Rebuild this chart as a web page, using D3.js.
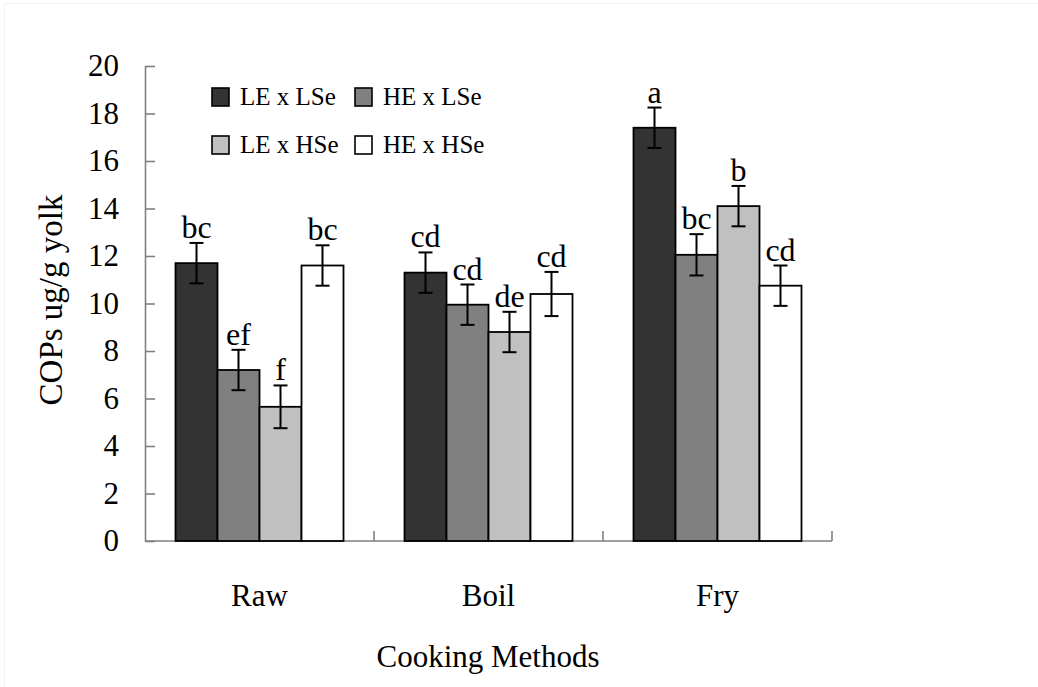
<!DOCTYPE html>
<html>
<head>
<meta charset="utf-8">
<script src="https://cdn.jsdelivr.net/npm/d3@7"></script>
<style>
  html, body { margin: 0; padding: 0; background: #fff; }
  svg { display: block; }
  text { font-family: "Liberation Serif", "Times New Roman", serif; fill: #000; }
</style>
</head>
<body>
<svg id="chart" width="1038" height="687"></svg>
<script>
// ---- data ----
const categories = ["Raw", "Boil", "Fry"];
const seriesNames = ["LE x LSe", "HE x LSe", "LE x HSe", "HE x HSe"];
const valuesLELSe = [11.7, 11.3, 17.4];
const valuesHELSe = [7.2, 9.95, 12.05];
const valuesLEHSe = [5.65, 8.8, 14.1];
const valuesHEHSe = [11.6, 10.4, 10.75];
const errorsLELSe = [0.85, 0.85, 0.85];
const errorsHELSe = [0.85, 0.85, 0.87];
const errorsLEHSe = [0.9, 0.85, 0.85];
const errorsHEHSe = [0.85, 0.93, 0.85];
const lettersLELSe = ["bc", "cd", "a"];
const lettersHELSe = ["ef", "cd", "bc"];
const lettersLEHSe = ["f", "de", "b"];
const lettersHEHSe = ["bc", "cd", "cd"];
const yTicks = [0, 2, 4, 6, 8, 10, 12, 14, 16, 18, 20];
const seriesColors = ["#333333", "#808080", "#c0c0c0", "#ffffff"];
const yTitle = "COPs ug/g yolk";
const xTitle = "Cooking Methods";

const seriesValues = [valuesLELSe, valuesHELSe, valuesLEHSe, valuesHEHSe];
const seriesErrors = [errorsLELSe, errorsHELSe, errorsLEHSe, errorsHEHSe];
const seriesLetters = [lettersLELSe, lettersHELSe, lettersLEHSe, lettersHEHSe];

const rows = [];
categories.forEach((c, ci) => {
  seriesNames.forEach((s, si) => {
    rows.push({cat: c, series: s, si: si,
               value: seriesValues[si][ci],
               err: seriesErrors[si][ci],
               letter: seriesLetters[si][ci]});
  });
});

// ---- layout ----
const svg = d3.select("#chart");
const plot = {left: 145, right: 832, top: 66, bottom: 541};

// faint outer frame like the scanned figure
svg.append("rect").attr("x", 4.5).attr("y", 3.5).attr("width", 1040).attr("height", 690)
  .attr("fill", "none").attr("stroke", "#f3f3f3").attr("stroke-width", 1);

const y = d3.scaleLinear().domain([0, 20]).range([plot.bottom, plot.top]);
const x0 = d3.scaleBand().domain(categories).range([plot.left, plot.right])
  .paddingInner(0.2664).paddingOuter(0.1332);
const x1 = d3.scaleBand().domain(seriesNames).range([0, x0.bandwidth()]).padding(0);
const color = d3.scaleOrdinal().domain(seriesNames).range(seriesColors);

const axisColor = "#808080";

// y axis
const yAxis = svg.append("g")
  .attr("transform", `translate(${plot.left},0)`)
  .call(d3.axisLeft(y).tickValues(yTicks).tickSize(-10).tickSizeOuter(0).tickPadding(26));
yAxis.select(".domain").attr("stroke", axisColor).attr("stroke-width", 1.6);
yAxis.selectAll(".tick line").attr("stroke", axisColor).attr("stroke-width", 1.6);
yAxis.selectAll(".tick text")
  .attr("font-family", '"Liberation Serif", serif')
  .attr("font-size", 31).attr("fill", "#000");

// x axis baseline with boundary ticks pointing up
const gap = (x0.step() - x0.bandwidth()) / 2;
const bounds = categories.map(c => x0(c) - gap).concat([x0(categories[categories.length - 1]) + x0.bandwidth() + gap]);
svg.append("line")
  .attr("x1", plot.left).attr("x2", plot.right)
  .attr("y1", y(0)).attr("y2", y(0))
  .attr("stroke", axisColor).attr("stroke-width", 1.6);
svg.selectAll(".xtick").data(bounds.slice(1)).join("line")
  .attr("class", "xtick")
  .attr("x1", d => d).attr("x2", d => d)
  .attr("y1", y(0)).attr("y2", y(0) - 10)
  .attr("stroke", axisColor).attr("stroke-width", 1.6);

// category labels
svg.selectAll(".catlabel").data(categories).join("text")
  .attr("class", "catlabel")
  .attr("x", d => x0(d) + x0.bandwidth() / 2)
  .attr("y", 606)
  .attr("text-anchor", "middle")
  .attr("font-size", 31)
  .text(d => d);

// bars
const bars = svg.append("g");
bars.selectAll("rect").data(rows).join("rect")
  .attr("x", d => x0(d.cat) + x1(d.series))
  .attr("y", d => y(d.value))
  .attr("width", x1.bandwidth())
  .attr("height", d => y(0) - y(d.value))
  .attr("fill", d => color(d.series))
  .attr("stroke", "#000")
  .attr("stroke-width", 1.8);

// error bars
const capW = 14;
const eb = svg.append("g").attr("stroke", "#000").attr("stroke-width", 2);
rows.forEach(d => {
  const cx = x0(d.cat) + x1(d.series) + x1.bandwidth() / 2;
  eb.append("line").attr("x1", cx).attr("x2", cx).attr("y1", y(d.value + d.err)).attr("y2", y(d.value - d.err));
  eb.append("line").attr("x1", cx - capW / 2).attr("x2", cx + capW / 2).attr("y1", y(d.value + d.err)).attr("y2", y(d.value + d.err));
  eb.append("line").attr("x1", cx - capW / 2).attr("x2", cx + capW / 2).attr("y1", y(d.value - d.err)).attr("y2", y(d.value - d.err));
});

// significance letters
svg.selectAll(".sig").data(rows).join("text")
  .attr("class", "sig")
  .attr("x", d => x0(d.cat) + x1(d.series) + x1.bandwidth() / 2)
  .attr("y", d => y(d.value + d.err) - 5)
  .attr("text-anchor", "middle")
  .attr("font-size", 32)
  .text(d => d.letter);

// axis titles
svg.append("text")
  .attr("transform", "translate(62,300) rotate(-90)")
  .attr("text-anchor", "middle")
  .attr("font-size", 33)
  .text(yTitle);
svg.append("text")
  .attr("x", 488).attr("y", 667)
  .attr("text-anchor", "middle")
  .attr("font-size", 31)
  .text(xTitle);

// legend
const legendPos = [[212, 88], [355, 88], [212, 136], [355, 136]];
const lg = svg.append("g");
seriesNames.forEach((s, i) => {
  const [lx, ly] = legendPos[i];
  lg.append("rect").attr("x", lx).attr("y", ly).attr("width", 17).attr("height", 18)
    .attr("fill", color(s)).attr("stroke", "#000").attr("stroke-width", 1.6);
  lg.append("text").attr("x", lx + 28).attr("y", ly + 17)
    .attr("font-size", 25).text(s);
});
</script>
</body>
</html>
